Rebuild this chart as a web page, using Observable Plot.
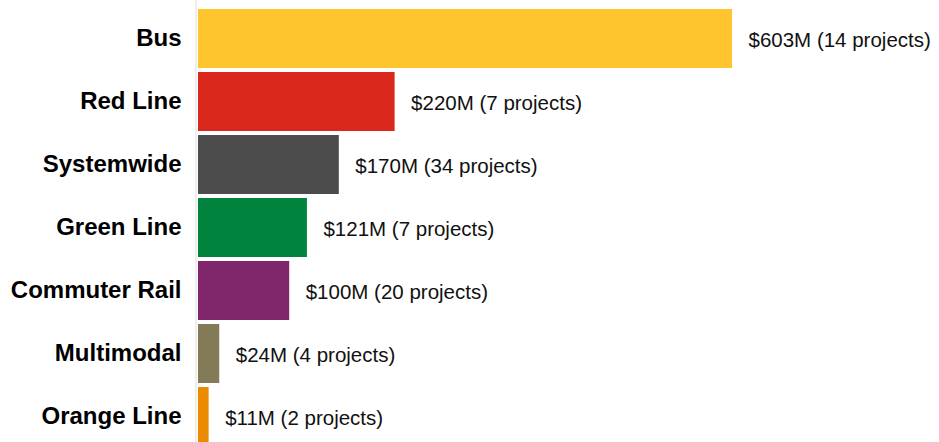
<!DOCTYPE html>
<html>
<head>
<meta charset="utf-8">
<script src="https://cdn.jsdelivr.net/npm/d3@7"></script>
<script src="https://cdn.jsdelivr.net/npm/@observablehq/plot@0.6"></script>
<style>
  html, body { margin: 0; padding: 0; background: #fff; }
  #chart svg { display: block; font-family: "Liberation Sans", Arial, sans-serif; }
</style>
</head>
<body>
<div id="chart"></div>
<script>
// Categories (top to bottom)
const modes = ["Bus", "Red Line", "Systemwide", "Green Line", "Commuter Rail", "Multimodal", "Orange Line"];
// Bar lengths ($M)
const barValues = [603, 222, 159, 123, 103, 24, 12];
// Amounts as printed in the labels ($M)
const labelAmounts = [603, 220, 170, 121, 100, 24, 11];
// Project counts
const projectCounts = [14, 7, 34, 7, 20, 4, 2];
// Bar colours
const colors = ["#FFC52E", "#DA291C", "#4C4C4C", "#00843D", "#80276C", "#837B58", "#ED8B00"];

const data = modes.map((m, i) => ({
  mode: m,
  value: barValues[i],
  color: colors[i],
  label: `$${labelAmounts[i]}M (${projectCounts[i]} projects)`
}));

const chart = Plot.plot({
  width: 939,
  height: 442,
  marginLeft: 198,
  marginRight: 207,
  marginTop: 0,
  marginBottom: 0,
  x: { domain: [0, 603], axis: null },
  y: { domain: modes, range: [5.9, 448.1], paddingInner: 0.066, paddingOuter: 0.033, axis: null },
  color: { type: "identity" },
  marks: [
    Plot.ruleX([0], { stroke: "#eeeeee", strokeWidth: 2, dx: -2.5 }),
    Plot.barX(data, { x: "value", y: "mode", fill: "color" }),
    Plot.text(data, {
      x: 0, y: "mode", text: "mode", textAnchor: "end", dx: -17, dy: -1,
      fontSize: 24, fontWeight: "bold", fill: "#000"
    }),
    Plot.text(data, {
      x: "value", y: "mode", text: "label", textAnchor: "start", dx: 16, dy: 1,
      fontSize: 20.5, fill: "#111"
    })
  ]
});
document.getElementById("chart").appendChild(chart);
</script>
</body>
</html>
